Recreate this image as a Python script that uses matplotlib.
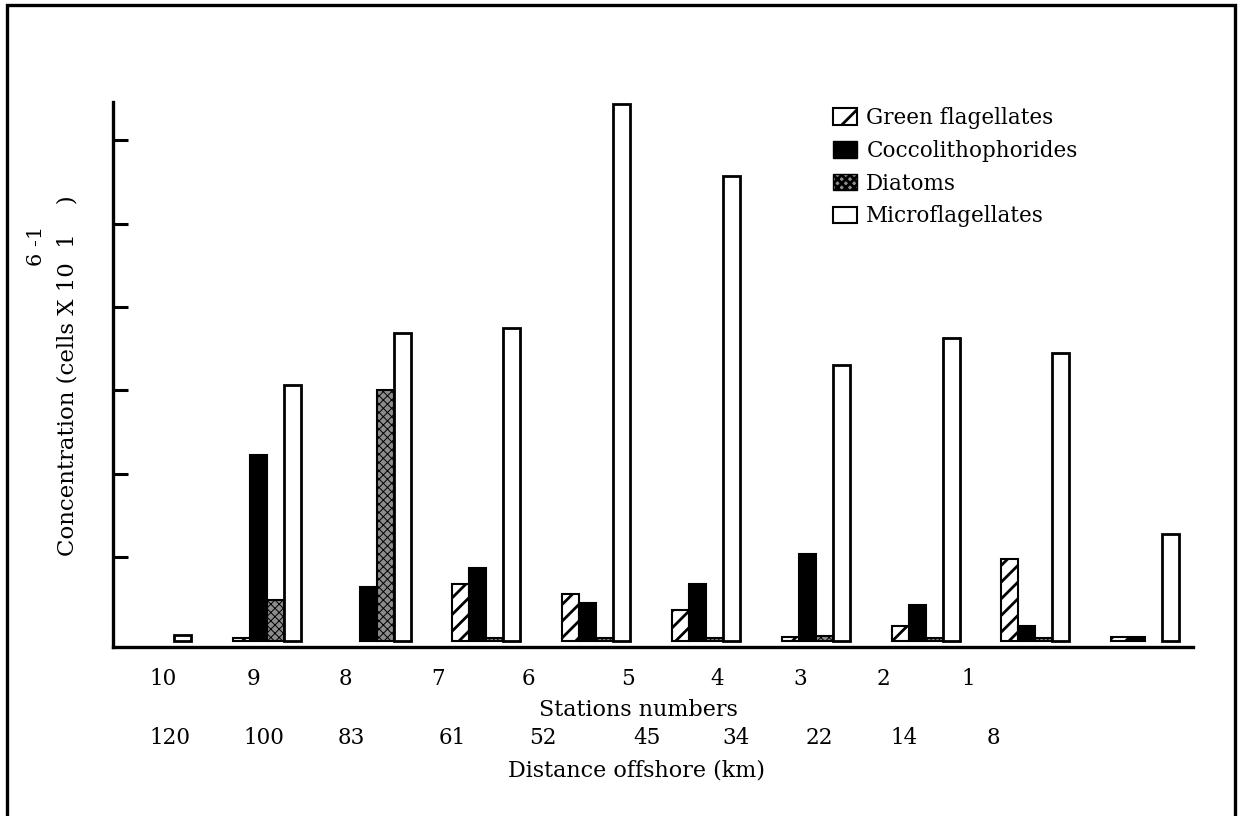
import matplotlib
matplotlib.use("Agg")
import matplotlib.pyplot as plt
from matplotlib.patches import Rectangle
import numpy as np

# values (tick units, no labels on the y axis)
green = [0, 0.04, 0, 0.68, 0.56, 0.37, 0.05, 0.18, 0.98, 0.05]
cocco = [0, 2.23, 0.65, 0.87, 0.46, 0.68, 1.04, 0.43, 0.18, 0.05]
diatoms = [0, 0.49, 3.00, 0.04, 0.04, 0.04, 0.06, 0.04, 0.04, 0]
micro = [0.07, 3.07, 3.69, 3.75, 6.43, 5.57, 3.31, 3.63, 3.45, 1.28]

stations = ["10", "9", "8", "7", "6", "5", "4", "3", "2", "1"]
station_x = [163, 253, 345, 438, 528, 628, 717, 800, 883, 968]
distances = ["120", "100", "83", "61", "52", "45", "34", "22", "14", "8"]
distance_x = [170, 264, 351, 452, 543, 647, 736, 819, 904, 993]

W, H = 1238, 816
plt.rcParams["font.family"] = "DejaVu Serif"
plt.rcParams["hatch.linewidth"] = 2.0

fig = plt.figure(figsize=(W / 100, H / 100), dpi=100)
ax = fig.add_axes([113 / W, 1 - 647 / H, 1080 / W, 545.4 / H])

x = np.arange(len(micro))
w = 0.155


def draw(vals, offset, **kw):
    # skip the empty cells, the scan shows nothing there
    v = np.array(vals, dtype=float)
    keep = v > 0
    return ax.bar(x[keep] + offset * w, v[keep], w, **kw)


draw(green, -1.5, facecolor="white", edgecolor="black", hatch="//", linewidth=1.5)
draw(cocco, -0.5, color="black", edgecolor="black", linewidth=1.5)
db = draw(diatoms, 0.5, facecolor="#8c8c8c", edgecolor="black", hatch="xxxx", linewidth=1.5)
for p in db:
    try:
        p.set_hatch_linewidth(0.7)
    except AttributeError:
        pass
draw(micro, 1.5, facecolor="white", edgecolor="black", linewidth=2.0)

ax.set_xlim(-0.40, 9.435)
ax.set_ylim(-0.072, 6.46)
for s in ["top", "right"]:
    ax.spines[s].set_visible(False)
for s in ["left", "bottom"]:
    ax.spines[s].set_linewidth(2.4)
ax.set_xticks([])
ax.set_yticks([1, 2, 3, 4, 5, 6])
ax.tick_params(axis="y", direction="in", length=11, width=2.2, labelleft=False)

# legend
handles = [
    Rectangle((0, 0), 1, 1, facecolor="white", edgecolor="black", hatch="/", linewidth=1.5),
    Rectangle((0, 0), 1, 1, facecolor="black", edgecolor="black"),
    Rectangle((0, 0), 1, 1, facecolor="#8c8c8c", edgecolor="black", hatch="xxxx"),
    Rectangle((0, 0), 1, 1, facecolor="white", edgecolor="black", linewidth=1.5),
]
labels = ["Green flagellates", "Coccolithophorides", "Diatoms", "Microflagellates"]
fig.legend(handles, labels, loc="upper left", bbox_to_anchor=(833 / W, 1 - 107 / H),
           frameon=False, fontsize=15.5, handlelength=1.1, handleheight=0.8,
           handletextpad=0.45, labelspacing=0.5, borderpad=0, borderaxespad=0)

# axis texts
def px(xp, yp):
    return xp / W, 1 - yp / H

for lab, xp in zip(stations, station_x):
    fig.text(*px(xp, 679), lab, ha="center", va="center", fontsize=15.5)
for lab, xp in zip(distances, distance_x):
    fig.text(*px(xp, 738), lab, ha="center", va="center", fontsize=15.5)
fig.text(*px(638, 710), "Stations numbers", ha="center", va="center", fontsize=16)
fig.text(*px(636, 770), "Distance offshore (km)", ha="center", va="center", fontsize=16)
fig.text(*px(68, 376), "Concentration (cells X 10  1    )", rotation=90,
         ha="center", va="center", fontsize=16.5)
fig.text(*px(36, 246), "6 -1", rotation=90, ha="center", va="center", fontsize=15)

# scanned page frame
fig.add_artist(Rectangle((7 / W, -0.01), (W - 10) / W, 1 - 5 / H + 0.01,
                         transform=fig.transFigure, fill=False, edgecolor="black", linewidth=2.4))

fig.savefig("out.png", dpi=100, facecolor="white")
